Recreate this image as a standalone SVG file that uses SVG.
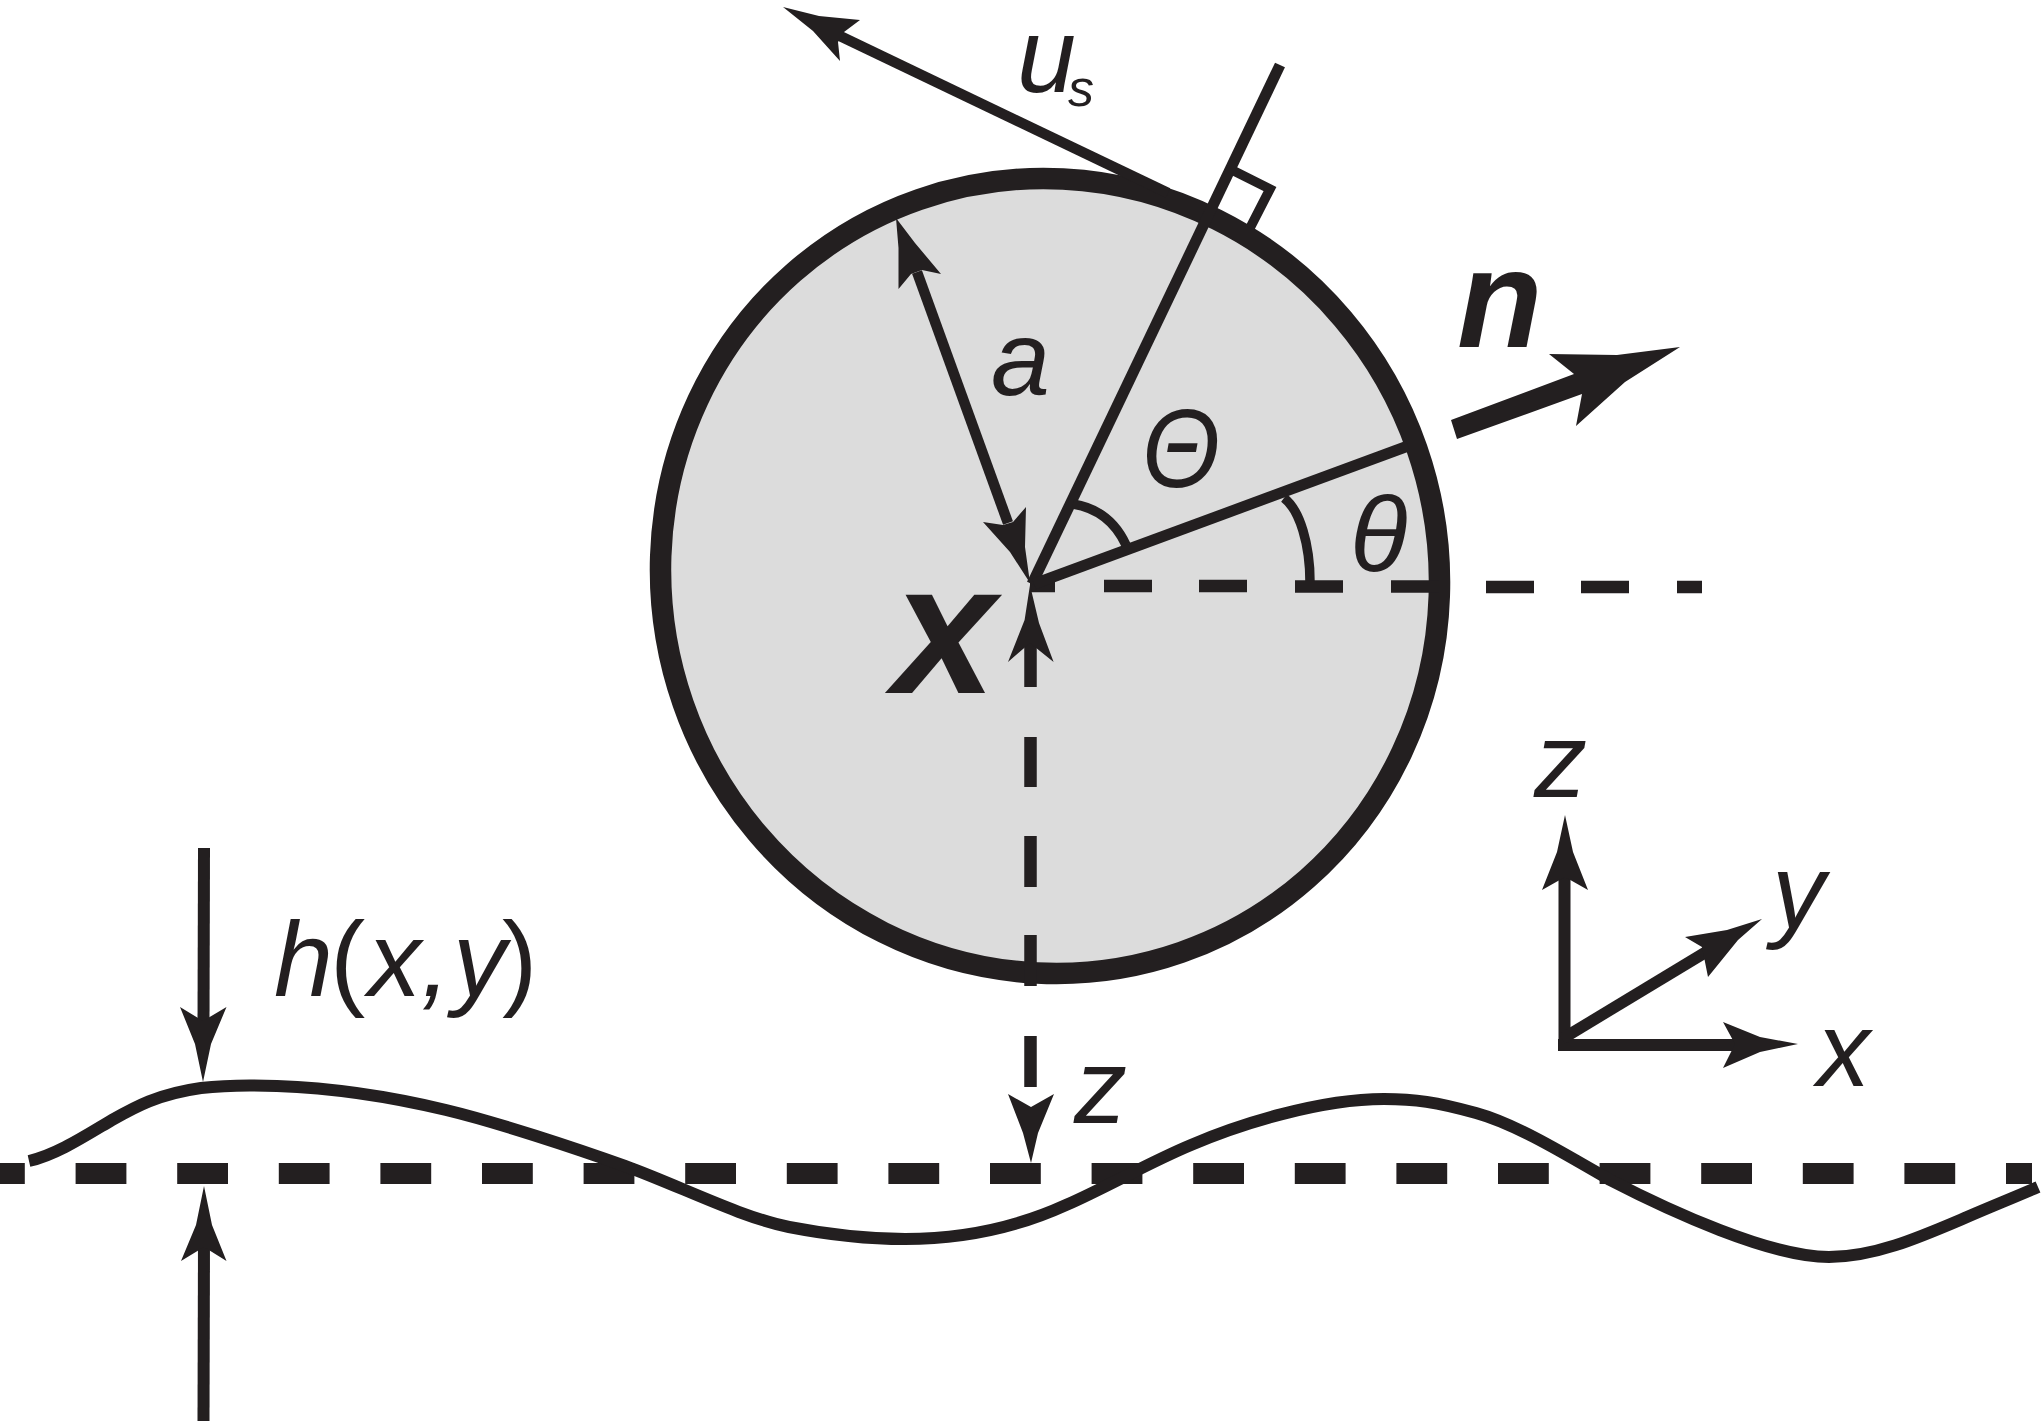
<svg xmlns="http://www.w3.org/2000/svg" width="2042" height="1421" viewBox="0 0 2042 1421">
<style>
.l{fill:none;stroke:#231f20;stroke-linecap:butt;stroke-linejoin:miter}
.h{fill:#231f20;stroke:none}
text{font-family:"Liberation Sans",Arial,sans-serif;font-style:italic;fill:#231f20;font-size:106px}
.b{font-weight:bold}
.u{font-style:normal}
</style>
<rect width="2042" height="1421" fill="#fff"/>
<g id="sphere">
<ellipse cx="1050" cy="576" rx="398.600" ry="388.400" transform="rotate(70.800 1050 576)" fill="#dcdcdc" stroke="#231f20" stroke-width="21.500"/>
</g>
<g id="connectors">
<path class="l" stroke-width="12.500" d="M1030 586H1055M1104 586H1152M1199 586H1247M1295 586.500H1343M1391 586.500H1439M1486 587H1534M1581 587H1629M1677 587H1702"/>
<path class="l" stroke-width="12.500" d="M1030.500 643V687M1030.500 737V787M1030.500 836V887M1030.500 935V986M1030.500 1036V1087"/>
<path class="l" stroke-width="21" stroke-dasharray="50.800 50.800" d="M-26 1173.500H2032"/>
<path class="l" stroke-width="12" d="M29 1161C56 1155 85 1136 112 1120C135 1107 158 1094 201 1088C226 1085 252 1085 277 1086C334 1088 396 1098 446 1110C496 1122 575 1148 625 1166C680 1186 740 1217 789 1227C825 1234 865 1239 905 1239C965 1239 1020 1226 1066 1205C1105 1188 1150 1162 1191 1145C1240 1124 1320 1099 1384 1099C1415 1099 1436 1102 1476 1113C1516 1124 1565 1154 1610 1180C1670 1211 1770 1257 1829 1257C1875 1257 1920 1237 1967 1217C1990 1207 2015 1197 2038 1187"/>
<path class="l" stroke-width="10.500" d="M840 36L1168 193"/>
<polygon class="h" points="783,7 819,16 860,20 844,32 838,42 840,61 813,31"/>
<path class="l" stroke-width="11" d="M1280 65L1032 584"/>
<path class="l" stroke-width="9.500" d="M1234 171L1270 189L1250 228"/>
<path class="l" stroke-width="10.500" d="M917 272L1008 523"/>
<polygon class="h" points="896,218 915,243 941,274 922,270 911,274 898.500,289 898.500,248"/>
<polygon class="h" points="1030,583 1010,552 983,522 1003,525 1013,522 1026,507 1025,547"/>
<path class="l" stroke-width="11" d="M1034 584L1408 446"/>
<path class="l" stroke-width="9.500" d="M1073 504Q1110 510 1126 545"/>
<path class="l" stroke-width="9.500" d="M1284 498C1300 510 1310 545 1310 582"/>
<polygon class="h" points="1030,585 1024.600,620 1008,662 1030,643 1053.600,662 1039,623"/>
<polygon class="h" points="1031,1163 1023,1133 1008,1094 1031,1107 1054,1094 1038,1133"/>
<path class="l" stroke-width="12" d="M204 848L203.500 1025"/>
<polygon class="h" points="203,1082 195,1044 180,1007 203,1021 226.500,1007 211,1044"/>
<path class="l" stroke-width="12" d="M204 1240L203.500 1421"/>
<polygon class="h" points="204,1186 196,1225 181,1261 204,1247 226.500,1261 212,1225"/>
<polygon class="h" points="1680,347 1617,355 1549,354 1574,374 1451,420 1457,439 1582,394 1576,426 1625,382"/>
<path class="l" stroke-width="12" d="M1564.500 1049V870"/>
<polygon class="h" points="1565,815 1557,852 1542,890 1565,877 1588,890 1573,852"/>
<path class="l" stroke-width="12" d="M1558 1045H1740"/>
<polygon class="h" points="1798,1044 1760,1037 1723,1022 1735,1044 1723,1068 1760,1052"/>
<path class="l" stroke-width="11.500" d="M1562 1039L1706 952"/>
<polygon class="h" points="1762,919 1727,930 1685,937 1702,947 1708,977 1738,940"/>
</g>
<g id="label-us"><text x="1017" y="92">u<tspan x="1068" y="106" style="font-size:52px">s</tspan></text></g>
<g id="label-a"><text x="991" y="395">a</text></g>
<g id="label-Theta-upper"><text transform="translate(1142 487) scale(.9 1)" style="font-size:112px">Θ</text></g>
<g id="label-theta-lower"><text x="1350" y="571">θ</text></g>
<g id="label-x-bold"><text class="b" x="893" y="693" style="font-size:185px">x</text></g>
<g id="label-n"><text class="b" x="1457" y="347" style="font-size:140px">n</text></g>
<g id="label-h"><text y="996"><tspan x="274">h</tspan><tspan class="u" x="330">(</tspan><tspan x="368">x,</tspan><tspan x="453">y</tspan><tspan class="u" x="502">)</tspan></text></g>
<g id="label-z-gap"><text x="1074" y="1123">z</text></g>
<g id="label-axes"><text x="1534" y="797">z</text><text x="1772" y="928">y</text><text x="1817" y="1086">x</text></g>
</svg>
